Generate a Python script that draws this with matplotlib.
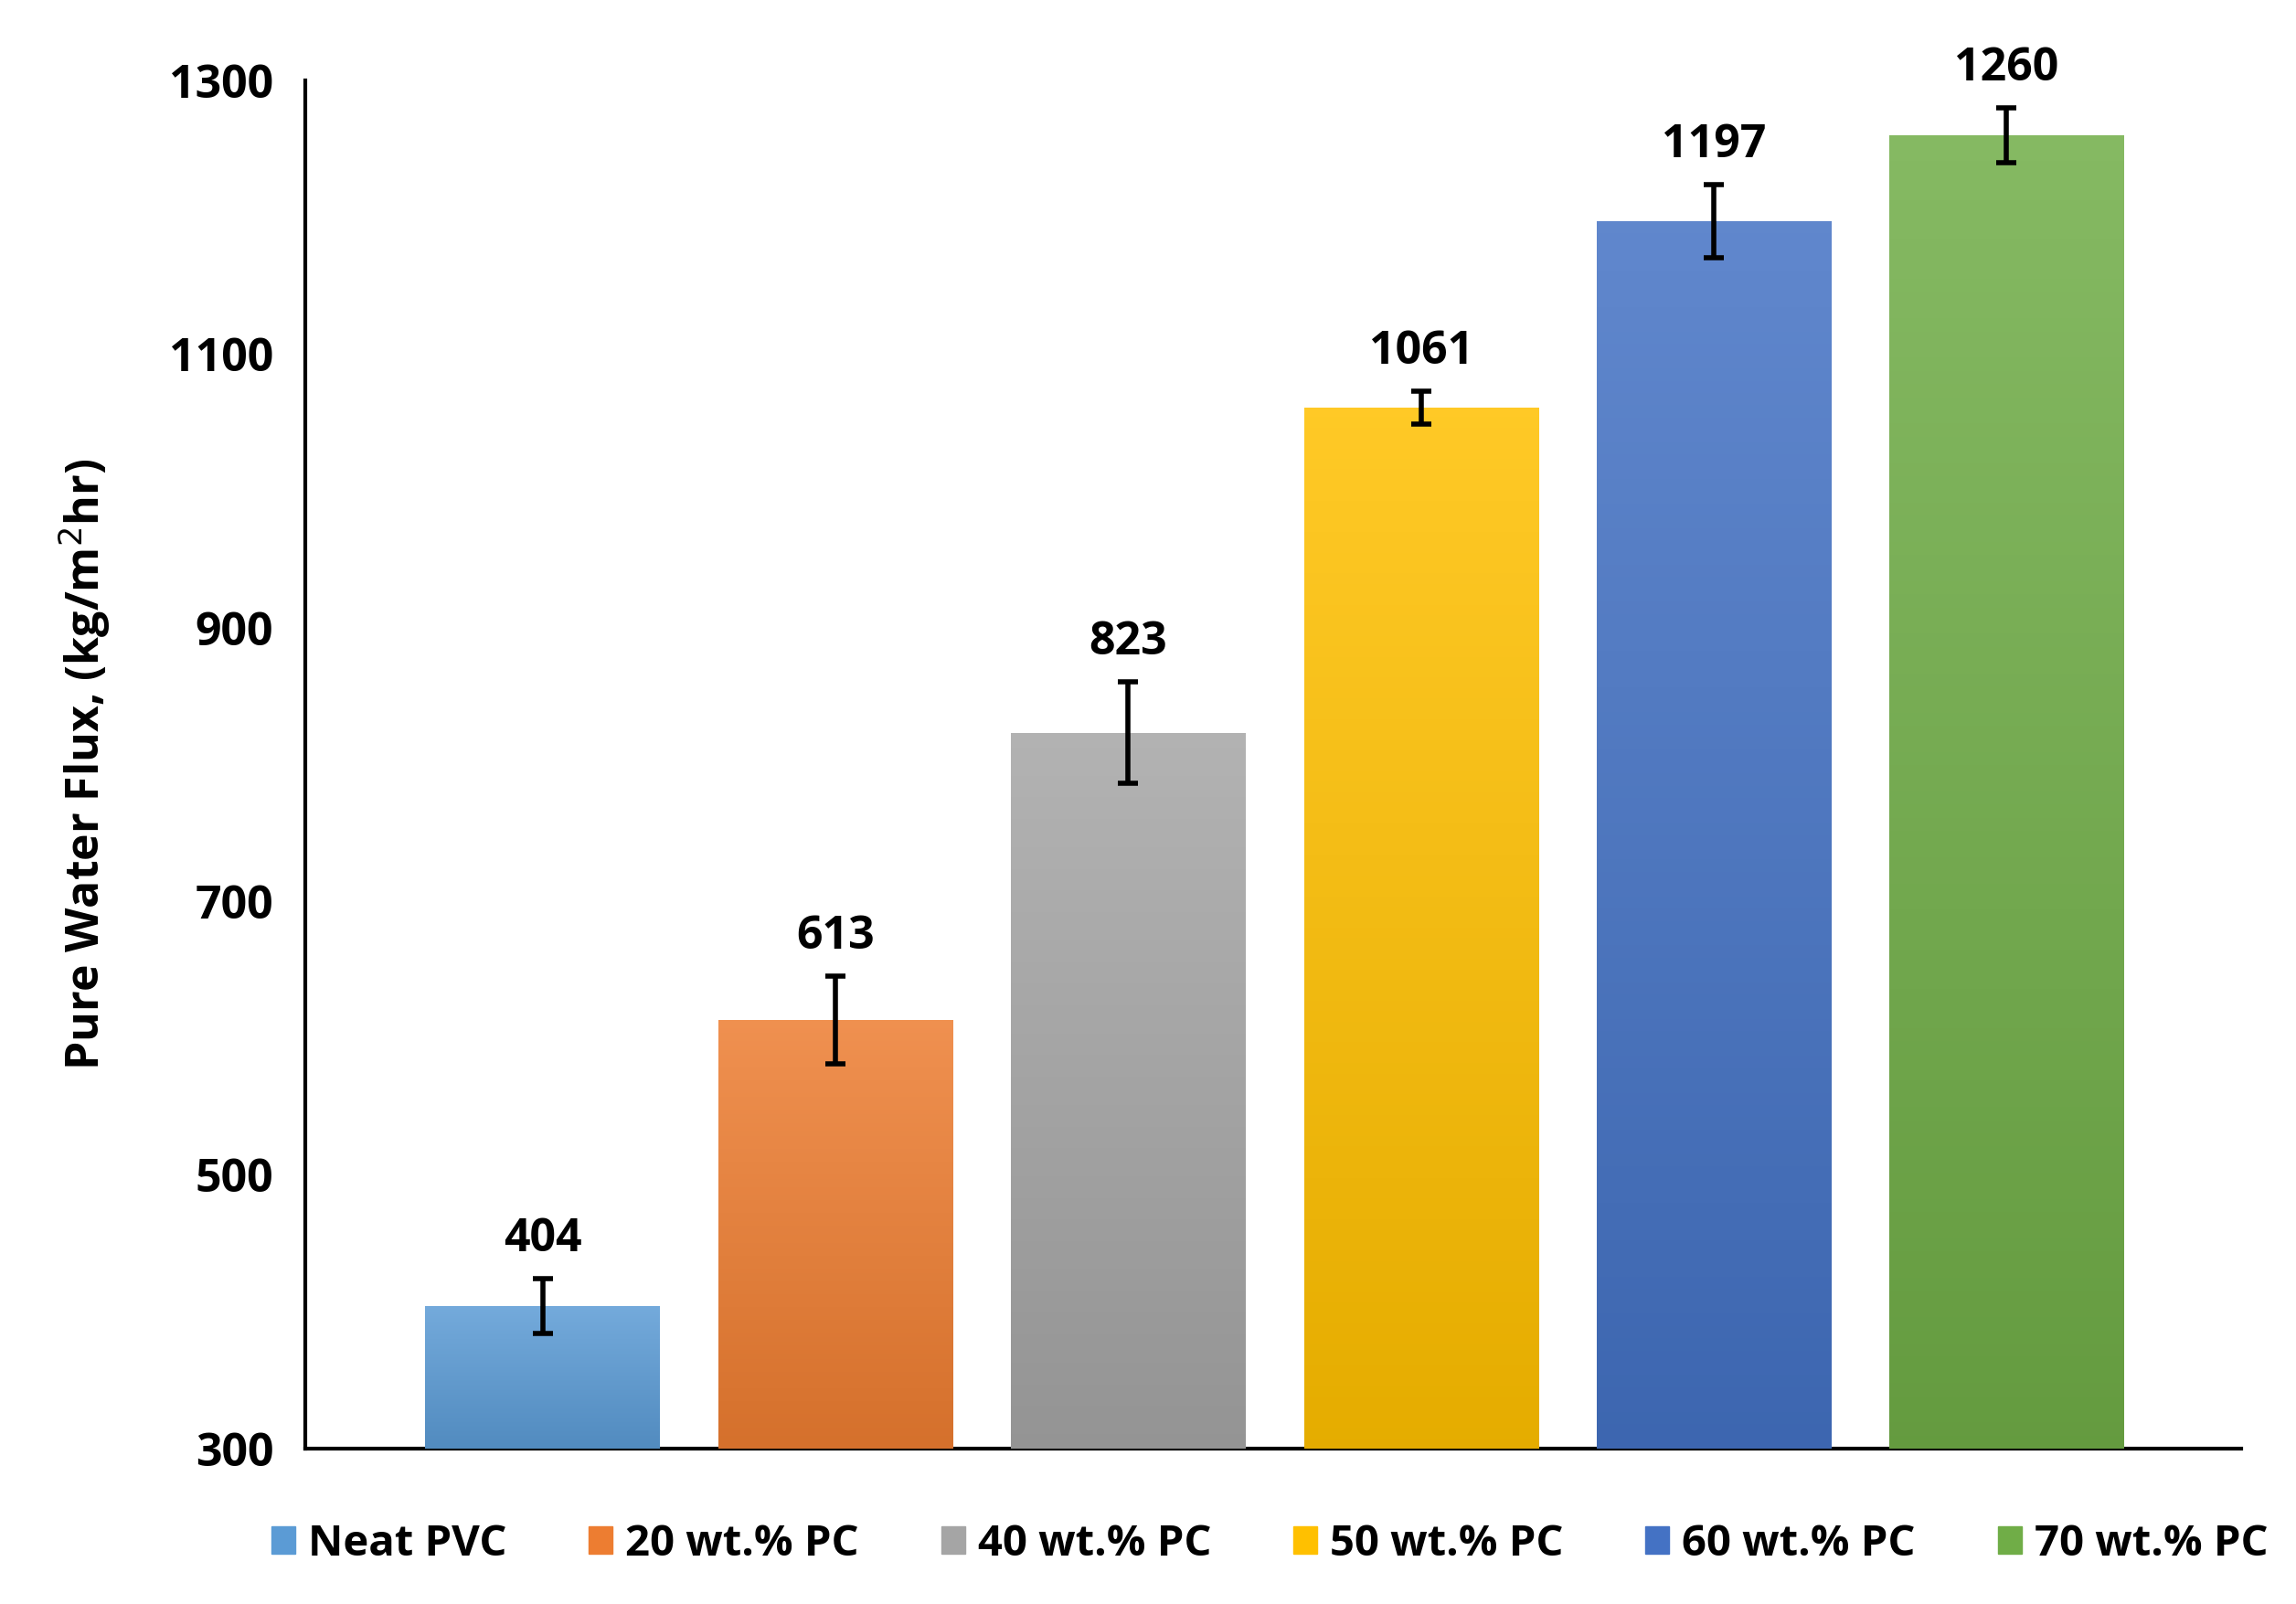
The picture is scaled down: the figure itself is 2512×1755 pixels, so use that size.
import matplotlib
matplotlib.use("Agg")
import matplotlib.pyplot as plt
import numpy as np
from matplotlib.colors import LinearSegmentedColormap, to_rgb
from matplotlib.patches import Patch

categories = ["Neat PVC", "20 wt.% PC", "40 wt.% PC", "50 wt.% PC", "60 wt.% PC", "70 wt.% PC"]
values = [404, 613, 823, 1061, 1197, 1260]
errors = [20, 32, 37, 12, 27, 20]
colors = ["#5B9BD5", "#ED7D31", "#A5A5A5", "#FFC000", "#4472C4", "#70AD47"]
yticks = [300, 500, 700, 900, 1100, 1300]

plt.rcParams['font.family'] = ['Open Sans', 'DejaVu Sans']
fig = plt.figure(figsize=(25.12, 17.55), dpi=100)
ax = fig.add_axes([0.133, 0.097, 0.843, 0.853])
x = np.arange(len(values))
bars = ax.bar(x, [v - 300 for v in values], bottom=300, width=0.8, color=colors, zorder=2)
for b, c in zip(bars, colors):
    x0, y0 = b.get_x(), b.get_y()
    w, h = b.get_width(), b.get_height()
    grad = np.linspace(0, 1, 100).reshape(-1, 1)
    r = np.array(to_rgb(c))
    cm = LinearSegmentedColormap.from_list("g", [tuple(r * 0.9), tuple(r + (1 - r) * 0.15)])
    im = ax.imshow(grad, extent=[x0, x0 + w, y0, y0 + h], origin="lower", cmap=cm, aspect="auto", zorder=3)
    im.set_clip_path(b)
ax.errorbar(x, values, yerr=errors, fmt="none", ecolor="black", elinewidth=4, capsize=8, capthick=4, zorder=4)
for xi, v, e in zip(x, values, errors):
    ax.text(xi, v + e + 12, str(v), ha="center", va="bottom", fontsize=36, fontweight="bold")
ax.set_xlim(-0.81, 5.8)
ax.set_ylim(300, 1300)
ax.set_yticks(yticks)
ax.set_xticks([])
ax.tick_params(axis="y", labelsize=36, length=0, pad=25)
for lab in ax.get_yticklabels():
    lab.set_fontweight("bold")
for s in ["top", "right"]:
    ax.spines[s].set_visible(False)
ax.spines["left"].set_linewidth(3)
ax.spines["bottom"].set_linewidth(3)
ax.set_ylabel("Pure Water Flux, (kg/m$^{2}$hr)", fontsize=36, fontweight="bold", labelpad=45)
handles = [Patch(color=c) for c in colors]
fig.legend(handles, categories, loc="lower center", bbox_to_anchor=(0.553, 0.0), ncol=6, frameon=False,
           prop={"weight": "bold", "size": 34}, handlelength=0.55, handleheight=0.6,
           handletextpad=0.3, columnspacing=1.9)
fig.savefig("out.png", dpi=100)
